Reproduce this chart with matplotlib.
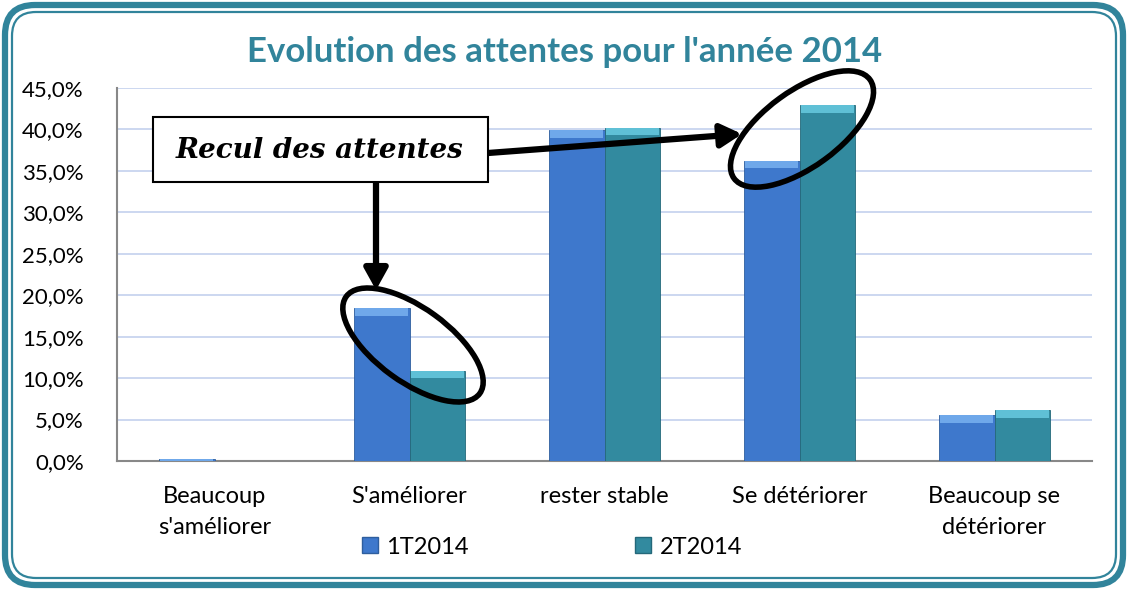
import numpy as np
import matplotlib
matplotlib.use("Agg")
import matplotlib.pyplot as plt
from matplotlib.patches import Ellipse, FancyBboxPatch, Rectangle
from matplotlib.transforms import Affine2D
from matplotlib.lines import Line2D

# data
categories = ["Beaucoup\ns'améliorer", "S'améliorer", "rester stable",
              "Se détériorer", "Beaucoup se\ndétériorer"]
t1_2014 = [0.3, 18.4, 39.9, 36.2, 5.5]
t2_2014 = [0.0, 10.9, 40.2, 42.9, 6.1]
series_names = ["1T2014", "2T2014"]
yticks = np.arange(0, 50, 5)

BLUE = "#3E78CC"
TEAL = "#328A9F"
BLUE_TOP = "#6FA8EA"
TEAL_TOP = "#5FC0D6"
FRAME = "#31849B"

plt.rcParams['font.family'] = ['Lato', 'DejaVu Sans']

fig = plt.figure(figsize=(11.28, 5.90), dpi=100)
# pixel coords of the reference (origin top-left)
px = Affine2D().scale(1 / 1128, -1 / 590).translate(0, 1) + fig.transFigure

# rounded double frame
fig.patches.append(FancyBboxPatch((5, 5), 1118, 580, boxstyle="round,pad=0,rounding_size=30",
                                  transform=px, fill=False, ec=FRAME, lw=4.5))
fig.patches.append(FancyBboxPatch((12, 12), 1104, 566, boxstyle="round,pad=0,rounding_size=24",
                                  transform=px, fill=False, ec=FRAME, lw=1.6))

ax = fig.add_axes([117 / 1128, 1 - 461 / 590, (1092 - 117) / 1128, (461 - 88) / 590])
x = np.arange(len(categories))
w = 0.287
ax.bar(x - w / 2, t1_2014, w, color=BLUE, edgecolor="#2E5E9E", lw=0.6, zorder=3)
ax.bar(x + w / 2, t2_2014, w, color=TEAL, edgecolor="#24687A", lw=0.6, zorder=3)
# light bevel on top of the bars
for vals, off, c in [(t1_2014, -w / 2, BLUE_TOP), (t2_2014, w / 2, TEAL_TOP)]:
    v = np.array(vals)
    cap = np.minimum(v, 0.9)
    ax.bar(x + off, cap, w * 0.96, bottom=v - cap, color=c, lw=0, zorder=4)

ax.set_xlim(-0.5, len(categories) - 0.5)
ax.set_ylim(0, 45)
ax.set_yticks(yticks)
ax.set_yticklabels([f"{v:.1f}%".replace(".", ",") for v in yticks], fontsize=16)
ax.set_xticks(x)
ax.set_xticklabels(categories, fontsize=17, linespacing=1.6)
ax.tick_params(axis="x", length=0, pad=18)
ax.tick_params(axis="y", length=0, pad=24)
ax.yaxis.grid(True, color="#C3D1EE", lw=1.2, zorder=0)
for s in ["top", "right"]:
    ax.spines[s].set_visible(False)
ax.spines["left"].set_color("#888888")
ax.spines["bottom"].set_color("#888888")
ax.spines["left"].set_linewidth(1.5)
ax.spines["bottom"].set_linewidth(1.5)

fig.text(565 / 1128, 1 - 52 / 590, "Evolution des attentes pour l'année 2014",
         ha="center", va="center", fontsize=25, fontweight="bold", color=FRAME)

# legend
handles = [Line2D([], [], marker="s", ls="", ms=11, mfc=BLUE, mec="#2E5E9E"),
           Line2D([], [], marker="s", ls="", ms=11, mfc=TEAL, mec="#24687A")]
fig.legend(handles, series_names, loc="center", bbox_to_anchor=(550 / 1128, 1 - 547 / 590),
           ncol=2, frameon=False, fontsize=17, columnspacing=6.9, handletextpad=0.2,
           handlelength=1.0)

# annotation: box, arrows, ellipses
fig.patches.append(Rectangle((153, 117), 335, 65, transform=px, fill=True,
                             fc="white", ec="black", lw=1.5, zorder=10))
fig.text(320 / 1128, 1 - 150 / 590, "Recul des attentes", ha="center", va="center",
         fontsize=20, fontstyle="italic", fontweight="bold", family="DejaVu Serif", zorder=11)
arrow_kw = dict(arrowstyle="-|>,head_length=0.9,head_width=0.5", lw=4.5, color="black",
                shrinkA=0, shrinkB=0, mutation_scale=14)
ax.annotate("", xy=(376, 290), xytext=(376, 182), xycoords=px, textcoords=px,
            arrowprops=arrow_kw, zorder=12)
ax.annotate("", xy=(742, 134), xytext=(488, 153), xycoords=px, textcoords=px,
            arrowprops=arrow_kw, zorder=12)
fig.patches.append(Ellipse((413, 345), 165, 74, angle=36, transform=px,
                           fill=False, ec="black", lw=4, zorder=12))
fig.patches.append(Ellipse((802, 129), 168, 76, angle=-36, transform=px,
                           fill=False, ec="black", lw=4, zorder=12))

fig.savefig("out.png", dpi=100)
